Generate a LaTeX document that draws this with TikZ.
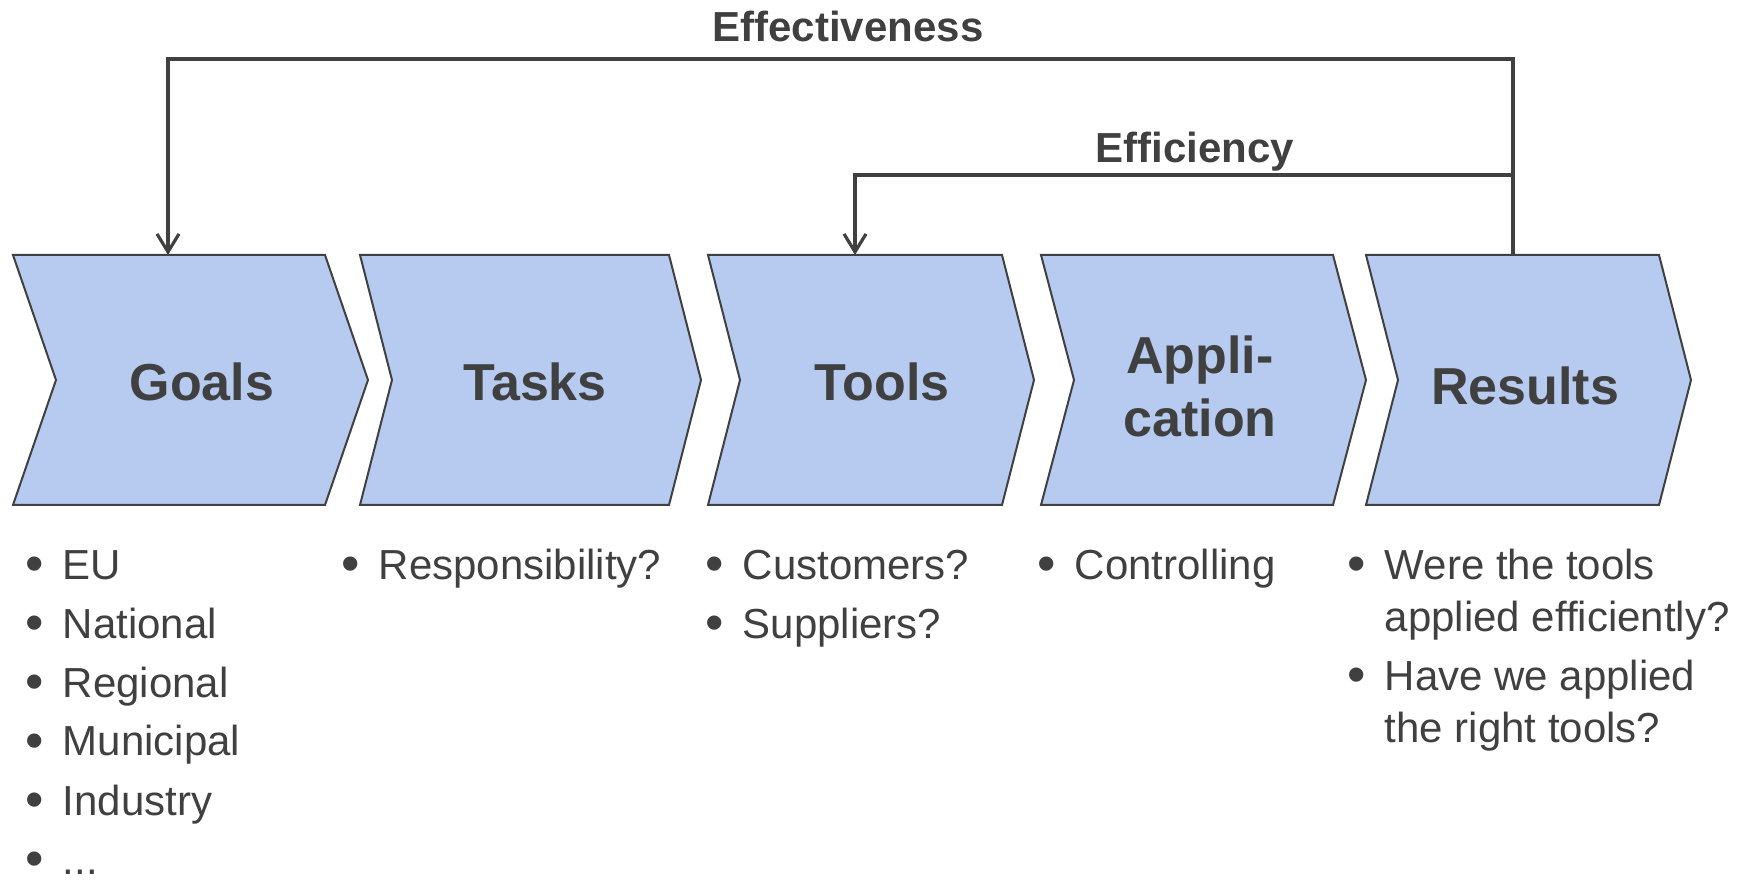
\documentclass[tikz,border=0pt]{standalone}
\usepackage{fontspec}
\usepackage{graphicx}
\setmainfont{Liberation Sans}
\usetikzlibrary{arrows.meta}
\definecolor{chevfill}{HTML}{B7CBF0}
\definecolor{ink}{HTML}{404040}
\tikzset{
  chev/.style={draw=ink, line width=1pt, fill=chevfill},
  lbl/.style={font=\fontsize{26pt}{31.5pt}\selectfont\bfseries, text=ink, align=center, inner sep=0pt},
  head/.style={font=\fontsize{21pt}{25pt}\selectfont\bfseries, text=ink, inner sep=0pt, anchor=base},
  list/.style={font=\fontsize{21pt}{26pt}\selectfont, text=ink, inner sep=0pt, anchor=base west},
  link/.style={draw=ink, line width=1.6pt},
  tip/.style={-{Straight Barb[length=9pt,width=11pt]}}
}
\newcommand{\bl}{\raisebox{-0.06em}{\scalebox{1.25}{\textbullet}}}
\newcommand{\gap}{\\[3.5pt]}

\begin{document}
\begin{tikzpicture}[x=0.5pt,y=-0.5pt]
\useasboundingbox (0,0) rectangle (1739,881);

% chevrons
\draw[chev] (13,255) -- (325,255) -- (368,380) -- (325,505) -- (13,505) -- (56,380) -- cycle;
\draw[chev] (360,255) -- (669,255) -- (701,380) -- (669,505) -- (360,505) -- (392,380) -- cycle;
\draw[chev] (708,255) -- (1002,255) -- (1034,380) -- (1002,505) -- (708,505) -- (740,380) -- cycle;
\draw[chev] (1041,255) -- (1333,255) -- (1366,380) -- (1333,505) -- (1041,505) -- (1074,380) -- cycle;
\draw[chev] (1366,255) -- (1659,255) -- (1691,380) -- (1659,505) -- (1366,505) -- (1398,380) -- cycle;

\node[lbl] (goals) at (202,382) {Goals};
\node[lbl] (tasks) at (535,382) {Tasks};
\node[lbl] (tools) at (882,382) {Tools};
\node[lbl] (appl) at (1200,386) {Appli-\\cation};
\node[lbl] (results) at (1525,386) {Results};

\coordinate (goalstop) at (168,255);
\coordinate (toolstop) at (855,255);
\coordinate (restop) at (1513,255);
\coordinate (branch) at (1513,175);

% feedback loops
\draw[link,tip] (restop) -- (1513,59) -| (goalstop);
\draw[link,tip] (branch) -| (toolstop);
\node[head] (effect) at (848,42) {Effectiveness};
\node[head] (effic) at (1195,163) {Efficiency};

% lists
\node[list] (goalslist) at (25,579) {\begin{tabular}[t]{@{}l@{\hspace{9.5pt}}l@{}}
\bl & EU\gap \bl & National\gap \bl & Regional\gap \bl & Municipal\gap \bl & Industry\gap \bl & ...
\end{tabular}};
\node[list] (taskslist) at (341,579) {\begin{tabular}[t]{@{}l@{\hspace{9.5pt}}l@{}}
\bl & Responsibility?
\end{tabular}};
\node[list] (toolslist) at (705,579) {\begin{tabular}[t]{@{}l@{\hspace{9.5pt}}l@{}}
\bl & Customers?\gap \bl & Suppliers?
\end{tabular}};
\node[list] (appllist) at (1037,579) {\begin{tabular}[t]{@{}l@{\hspace{9.5pt}}l@{}}
\bl & Controlling
\end{tabular}};
\node[list] (reslist) at (1347,579) {\begin{tabular}[t]{@{}l@{\hspace{9.5pt}}l@{}}
\bl & Were the tools\\ & applied efficiently?\gap \bl & Have we applied\\ & the right tools?
\end{tabular}};
\end{tikzpicture}
\end{document}
